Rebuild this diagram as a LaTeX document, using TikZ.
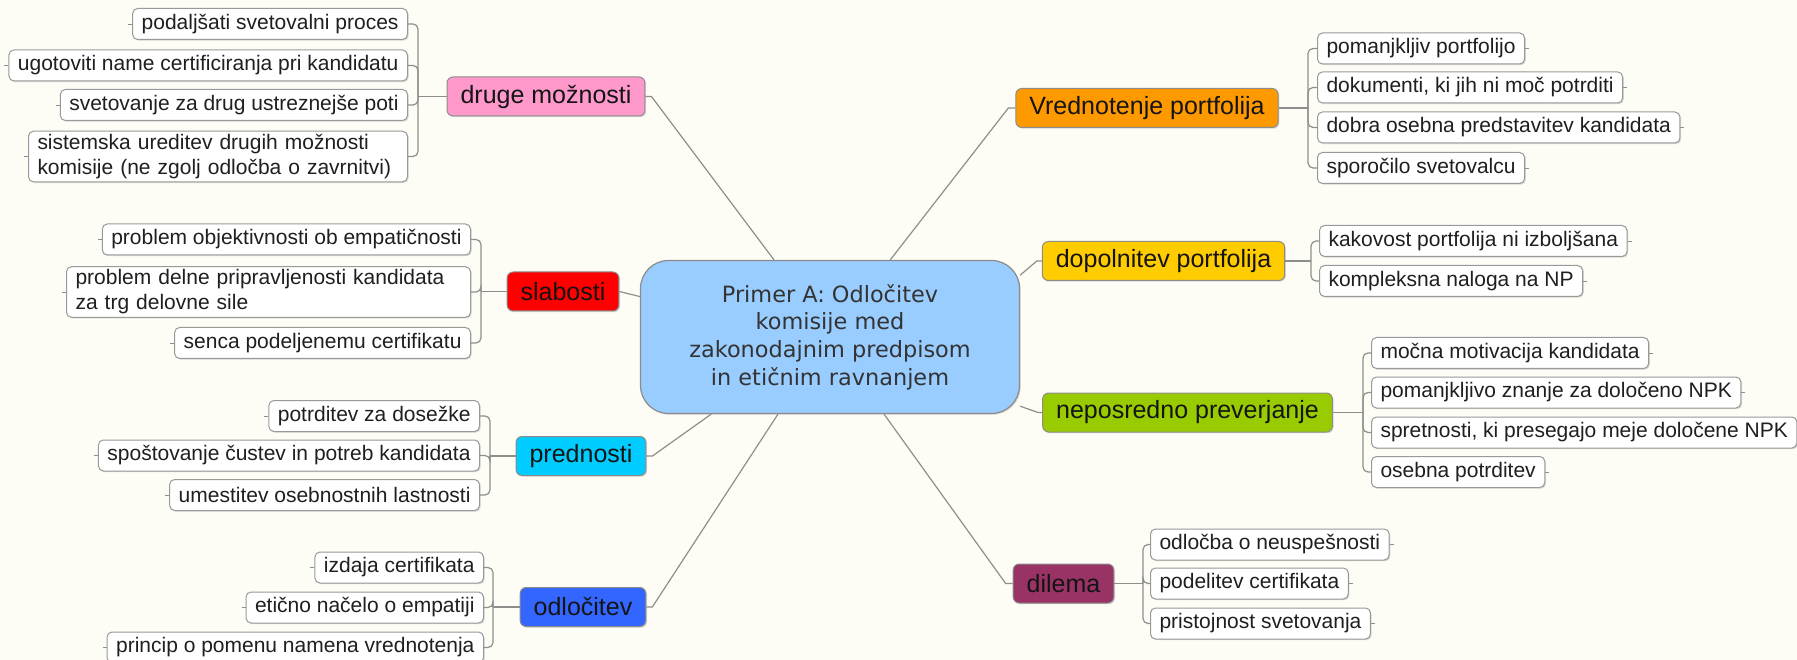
\documentclass[tikz,border=0pt]{standalone}
\usepackage{fontspec}
\setmainfont{Liberation Sans}
\newfontfamily\cenfont{DejaVu Sans}
\usetikzlibrary{shadows}
\definecolor{bgcol}{HTML}{FDFDF5}
\definecolor{linecol}{HTML}{8E8E8E}
\definecolor{cencol}{HTML}{99CCFF}
\definecolor{pinkcol}{HTML}{FF99CC}
\definecolor{redcol}{HTML}{FF0000}
\definecolor{cyancol}{HTML}{00CCFF}
\definecolor{bluecol}{HTML}{3366FF}
\definecolor{orangecol}{HTML}{FF9900}
\definecolor{yellowcol}{HTML}{FFCC00}
\definecolor{greencol}{HTML}{99CC00}
\definecolor{plumcol}{HTML}{993366}

\begin{document}
\begin{tikzpicture}[x=1pt,y=-1pt,
  link/.style={draw=linecol,line width=1.2pt},
  bracket/.style={link,rounded corners=5pt},
  shade/.style={drop shadow={shadow xshift=1.2pt,shadow yshift=-1.2pt,fill=black!30,opacity=.5}},
  leaf/.style={draw=black!40,fill=white,rounded corners=5pt,line width=1pt,shade,
    minimum height=31pt,inner xsep=9pt,inner ysep=3pt,text=black!88,
    font=\fontsize{21}{25}\selectfont},
  topic/.style={draw=black!45,rounded corners=6pt,line width=1pt,shade,
    minimum height=39pt,inner xsep=13.5pt,text=black!92,
    font=\fontsize{25}{28}\selectfont}]
   \fill[bgcol] (0,0) rectangle (1797,660);
   \useasboundingbox (0,0) rectangle (1797,660);
   % centre
   \node[draw=black!45,fill=cencol,rounded corners=28pt,line width=1.2pt,shade,
     minimum width=379pt,minimum height=153pt,align=center,text=black!80,
     font=\cenfont\fontsize{22.4}{27.7}\selectfont] (cen) at (830,337)
     {Primer A: Odločitev\\komisije med\\zakonodajnim predpisom\\in etičnim ravnanjem};
   % left
   \node[topic,fill=pinkcol] (druge) at (546,96.5) {druge možnosti};
   \node[topic,fill=redcol] (slab) at (563,291.5) {slabosti};
   \node[topic,fill=cyancol] (pred) at (581,456) {prednosti};
   \node[topic,fill=bluecol] (odl) at (583,607) {odločitev};
   % right
   \node[topic,fill=orangecol] (vred) at (1147,108) {Vrednotenje portfolija};
   \node[topic,fill=yellowcol] (dopol) at (1163.5,261) {dopolnitev portfolija};
   \node[topic,fill=greencol] (nepos) at (1187.5,412.5) {neposredno preverjanje};
   \node[topic,fill=plumcol] (dil) at (1063.5,583.5) {dilema};

   \node[leaf,anchor=east] (d1) at (408,24) {podaljšati svetovalni proces};
   \node[leaf,anchor=east] (d2) at (408,65.5) {ugotoviti name certificiranja pri kandidatu};
   \node[leaf,anchor=east] (d3) at (408,105) {svetovanje za drug ustreznejše poti};
   \node[leaf,anchor=east,align=left,text width=361pt] (d4) at (408,156.5)
     {sistemska ureditev drugih možnosti\\komisije (ne zgolj odločba o zavrnitvi)};

   \node[leaf,anchor=east] (s1) at (471,239.5) {problem objektivnosti ob empatičnosti};
   \node[leaf,anchor=east,align=left,text width=386pt] (s2) at (471,292)
     {problem delne pripravljenosti kandidata\\za trg delovne sile};
   \node[leaf,anchor=east] (s3) at (471,343) {senca podeljenemu certifikatu};

   \node[leaf,anchor=east] (r1) at (480,416) {potrditev za dosežke};
   \node[leaf,anchor=east] (r2) at (480,455.5) {spoštovanje čustev in potreb kandidata};
   \node[leaf,anchor=east] (r3) at (480,495) {umestitev osebnostnih lastnosti};

   \node[leaf,anchor=east] (o1) at (484,567.5) {izdaja certifikata};
   \node[leaf,anchor=east] (o2) at (484,607.5) {etično načelo o empatiji};
   \node[leaf,anchor=east] (o3) at (484,647.5) {princip o pomenu namena vrednotenja};

   \node[leaf,anchor=west] (v1) at (1317,48.5) {pomanjkljiv portfolijo};
   \node[leaf,anchor=west] (v2) at (1317,87.5) {dokumenti, ki jih ni moč potrditi};
   \node[leaf,anchor=west] (v3) at (1317,127.5) {dobra osebna predstavitev kandidata};
   \node[leaf,anchor=west] (v4) at (1317,168) {sporočilo svetovalcu};

   \node[leaf,anchor=west] (p1) at (1319,241) {kakovost portfolija ni izboljšana};
   \node[leaf,anchor=west] (p2) at (1319,281) {kompleksna naloga na NP};

   \node[leaf,anchor=west] (n1) at (1371,353) {močna motivacija kandidata};
   \node[leaf,anchor=west] (n2) at (1371,392.5) {pomanjkljivo znanje za določeno NPK};
   \node[leaf,anchor=west] (n3) at (1371,432.5) {spretnosti, ki presegajo meje določene NPK};
   \node[leaf,anchor=west] (n4) at (1371,472) {osebna potrditev};

   \node[leaf,anchor=west] (i1) at (1150,544.5) {odločba o neuspešnosti};
   \node[leaf,anchor=west] (i2) at (1150,583.5) {podelitev certifikata};
   \node[leaf,anchor=west] (i3) at (1150,623.5) {pristojnost svetovanja};

   % brackets
   \coordinate (jd) at (418,96.5);
   \coordinate (js) at (481,291.5);
   \coordinate (jp) at (490,456);
   \coordinate (jo) at (493,607);
   \coordinate (jv) at (1308,108);
   \coordinate (jdp) at (1311,261);
   \coordinate (jn) at (1363,412.5);
   \coordinate (jdl) at (1143,583.5);

   \foreach \c in {d1,d2,d3,d4} \draw[bracket] (\c.east) -| (jd);
   \foreach \c in {s1,s2,s3} \draw[bracket] (\c.east) -| (js);
   \foreach \c in {r1,r2,r3} \draw[bracket] (\c.east) -| (jp);
   \foreach \c in {o1,o2,o3} \draw[bracket] (\c.east) -| (jo);
   \foreach \c in {v1,v2,v3,v4} \draw[bracket] (\c.west) -| (jv);
   \foreach \c in {p1,p2} \draw[bracket] (\c.west) -| (jdp);
   \foreach \c in {n1,n2,n3,n4} \draw[bracket] (\c.west) -| (jn);
   \foreach \c in {i1,i2,i3} \draw[bracket] (\c.west) -| (jdl);
   \draw[link] (jd) -- (druge.west);
   \draw[link] (js) -- (slab.west);
   \draw[link] (jp) -- (pred.west);
   \draw[link] (jo) -- (odl.west);
   \draw[link] (jv) -- (vred.east);
   \draw[link] (jdp) -- (dopol.east);
   \draw[link] (jn) -- (nepos.east);
   \draw[link] (jdl) -- (dil.east);

   \foreach \c in {d1,d2,d3,d4,s1,s2,s3,r1,r2,r3,o1,o2,o3}
     \draw[link,line width=.8pt] (\c.west) -- ++(-4,0);
   \foreach \c in {v1,v2,v3,v4,p1,p2,n1,n2,n3,n4,i1,i2,i3}
     \draw[link,line width=.8pt] (\c.east) -- ++(4,0);

   % spokes
   \draw[link] (cen.126.5) -- ([xshift=6pt]druge.east) -- (druge.east);
   \draw[link] (cen.168) -- (slab.east);
   \draw[link] (cen.213.5) -- ([xshift=6pt]pred.east) -- (pred.east);
   \draw[link] (cen.236.8) -- ([xshift=6pt]odl.east) -- (odl.east);
   \draw[link] (cen.52) -- ([xshift=-7pt]vred.west) -- (vred.west);
   \draw[link] (cen.18) -- ([xshift=-5pt]dopol.west) -- (dopol.west);
   \draw[link] (cen.340.8) -- ([xshift=-4pt]nepos.west) -- (nepos.west);
   \draw[link] (cen.305.7) -- ([xshift=-7pt]dil.west) -- (dil.west);
\end{tikzpicture}
\end{document}
